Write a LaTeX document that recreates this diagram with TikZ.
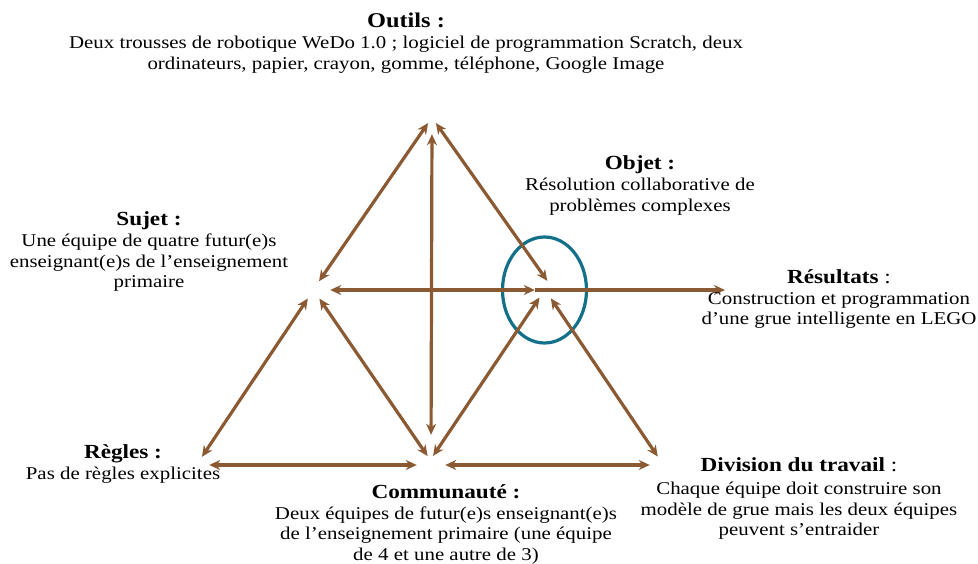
\documentclass[tikz,border=0pt]{standalone}
\usepackage{fontspec}
\setmainfont{Liberation Serif}[FakeStretch=1.16]
\usetikzlibrary{arrows.meta,positioning,shapes.geometric}
\definecolor{brun}{RGB}{139,90,50}
\definecolor{bleucanard}{RGB}{18,112,138}
\newcommand{\titre}[1]{{\fontsize{20}{24}\selectfont\bfseries #1}}

\begin{document}
\begin{tikzpicture}[x=1pt,y=-1pt,>={Stealth[length=11pt,width=10pt,inset=3.5pt]}]
    \tikzset{
      pole/.style={
        ellipse,
        inner sep=0pt,
        minimum width=26pt,
        minimum height=18pt
      },
      bloc/.style={
        align=center,
        inner sep=0pt,
        anchor=north,
        font=\fontsize{18}{20.5}\selectfont
      },
      fleche/.style={draw=brun, line width=3.2pt, <->}
    };
    \useasboundingbox (0,0) rectangle (978,563);

    % sommets du triangle
    \node [pole, circle, minimum size=14pt] (outilsP) at (432,117) {};
    \node [pole, minimum width=32pt] (sujetP) at (314,290) {};
    \node [pole, minimum width=22pt] (objetP) at (546,290) {};
    \node [pole] (reglesP) at (196,465) {};
    \node [pole, minimum width=28pt] (commuP) at (431,465) {};
    \node [pole] (divisionP) at (663,465) {};
    \coordinate (resultatsP) at (725,290);

    \draw[bleucanard, line width=3.2pt] ([xshift=-1.5pt]objetP.center) ellipse [x radius=42, y radius=53];

    \draw[fleche] (sujetP.60) -- (outilsP.237);
    \draw[fleche] (outilsP.303) -- (objetP.82);
    \draw[fleche, shorten <=10pt, shorten >=21pt] (outilsP.270) -- (commuP.90);
    \draw[fleche] (sujetP.0) -- (objetP.180);
    \draw[fleche, ->] (objetP.180) -- (resultatsP);
    \draw[fleche] (reglesP.54) -- (sujetP.234);
    \draw[fleche] (sujetP.302) -- (commuP.111);
    \draw[fleche] (commuP.77) -- (objetP.229);
    \draw[fleche] (objetP.300) -- (divisionP.122);
    \draw[fleche] (reglesP.0) -- (commuP.180);
    \draw[fleche] (commuP.0) -- (divisionP.180);

    % textes
    \node [bloc] (outils) at (406,12.7) {{\fontsize{21}{24}\selectfont\bfseries Outils :}\\[1pt]
      Deux trousses de robotique WeDo 1.0 ; logiciel de programmation Scratch, deux\\
      ordinateurs, papier, crayon, gomme, téléphone, Google Image};
    \node [bloc] (objet) at (640,155.4) {\titre{Objet :}\\[1pt]
      Résolution collaborative de\\ problèmes complexes};
    \node [bloc] (sujet) at (149,211.4) {\titre{Sujet :}\\[1pt]
      Une équipe de quatre futur(e)s\\ enseignant(e)s de l’enseignement\\ primaire};
    \node [bloc] (resultats) at (839,269.4) {\titre{Résultats {\mdseries :}}\\
      Construction et programmation\\ d’une grue intelligente en LEGO};
    \node [bloc] (regles) at (123,444.4) {\titre{Règles :}\\
      Pas de règles explicites};
    \node [bloc] (commu) at (446,484.4) {\titre{Communauté :}\\
      Deux équipes de futur(e)s enseignant(e)s\\ de l’enseignement primaire (une équipe\\ de 4 et une autre de 3)};
    \node [bloc] (division) at (799,457.4) {\titre{Division du travail {\mdseries :}}\\[3pt]
      Chaque équipe doit construire son\\ modèle de grue mais les deux équipes\\ peuvent s’entraider};

\end{tikzpicture}
\end{document}
